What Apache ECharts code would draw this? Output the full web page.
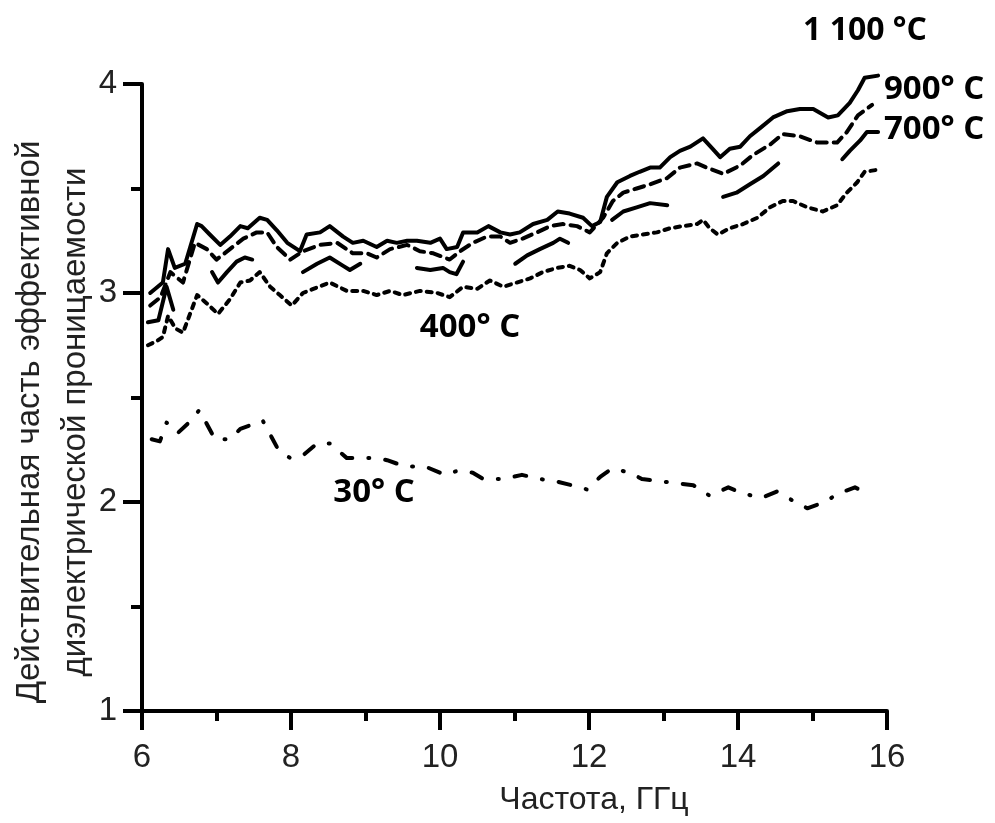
<!DOCTYPE html>
<html>
<head>
<meta charset="utf-8">
<script src="https://cdn.jsdelivr.net/npm/echarts@6/dist/echarts.min.js"></script>
<style>
  html, body { margin: 0; padding: 0; background: #fff; }
  #chart { width: 995px; height: 823px; }
</style>
</head>
<body>
<div id="chart"></div>
<script>
// частота, ГГц / действительная часть eps
const t1100 = [[6.11, 3.0], [6.28, 3.05], [6.35, 3.21], [6.44, 3.12], [6.58, 3.14], [6.74, 3.33], [6.8, 3.32], [6.91, 3.28], [7.05, 3.23], [7.18, 3.27], [7.32, 3.32], [7.42, 3.31], [7.58, 3.36], [7.68, 3.35], [7.81, 3.30], [7.95, 3.24], [8.12, 3.20], [8.21, 3.28], [8.39, 3.29], [8.52, 3.32], [8.70, 3.27], [8.83, 3.24], [8.97, 3.25], [9.15, 3.22], [9.29, 3.25], [9.42, 3.24], [9.56, 3.25], [9.69, 3.25], [9.87, 3.24], [10.0, 3.26], [10.09, 3.21], [10.23, 3.22], [10.31, 3.29], [10.50, 3.29], [10.65, 3.32], [10.81, 3.29], [10.94, 3.28], [11.07, 3.29], [11.25, 3.33], [11.44, 3.35], [11.58, 3.39], [11.74, 3.38], [11.92, 3.36], [12.04, 3.32], [12.15, 3.34], [12.24, 3.46], [12.38, 3.53], [12.55, 3.56], [12.68, 3.58], [12.82, 3.60], [12.95, 3.60], [13.09, 3.65], [13.22, 3.68], [13.36, 3.70], [13.53, 3.74], [13.66, 3.69], [13.76, 3.65], [13.89, 3.69], [14.03, 3.70], [14.16, 3.75], [14.30, 3.79], [14.47, 3.84], [14.66, 3.87], [14.83, 3.88], [15.01, 3.88], [15.21, 3.84], [15.34, 3.85], [15.50, 3.91], [15.61, 3.97], [15.70, 4.03], [15.88, 4.04]]
const t900 = [[6.11, 2.94], [6.25, 2.98], [6.38, 3.10], [6.55, 3.05], [6.71, 3.24], [6.87, 3.21], [7.0, 3.16], [7.18, 3.21], [7.36, 3.26], [7.54, 3.29], [7.68, 3.29], [7.81, 3.22], [7.99, 3.16], [8.16, 3.20], [8.39, 3.23], [8.62, 3.24], [8.83, 3.19], [9.02, 3.19], [9.15, 3.17], [9.33, 3.21], [9.56, 3.23], [9.73, 3.20], [9.91, 3.19], [10.13, 3.16], [10.27, 3.20], [10.44, 3.24], [10.63, 3.27], [10.81, 3.27], [10.94, 3.24], [11.11, 3.26], [11.30, 3.29], [11.48, 3.32], [11.65, 3.33], [11.84, 3.32], [12.01, 3.29], [12.19, 3.36], [12.32, 3.44], [12.46, 3.48], [12.64, 3.50], [12.82, 3.52], [13.05, 3.55], [13.22, 3.60], [13.45, 3.62], [13.58, 3.60], [13.80, 3.57], [14.03, 3.61], [14.20, 3.66], [14.43, 3.71], [14.60, 3.76], [14.83, 3.75], [15.06, 3.72], [15.33, 3.72], [15.46, 3.77], [15.61, 3.85], [15.80, 3.90]]
const t700 = [[6.08, 2.86], [6.22, 2.87], [6.33, 3.03], [6.42, 2.92], null, [6.94, 3.10], [7.02, 3.05], [7.14, 3.10], [7.27, 3.15], [7.38, 3.17], [7.48, 3.16], null, [8.16, 3.10], [8.35, 3.14], [8.52, 3.17], [8.70, 3.13], [8.79, 3.11], [8.93, 3.14], null, [9.69, 3.12], [9.87, 3.11], [10.04, 3.12], [10.13, 3.10], [10.22, 3.09], [10.31, 3.15], null, [11.01, 3.14], [11.17, 3.18], [11.34, 3.21], [11.52, 3.24], [11.61, 3.26], [11.72, 3.24], null, [12.31, 3.35], [12.46, 3.39], [12.64, 3.41], [12.82, 3.43], [13.05, 3.42], null, [13.80, 3.46], [13.98, 3.48], [14.16, 3.52], [14.34, 3.56], [14.54, 3.62], null, [15.40, 3.64], [15.50, 3.68], [15.64, 3.73], [15.73, 3.77], [15.88, 3.77]]
const t400 = [[6.08, 2.75], [6.20, 2.77], [6.28, 2.79], [6.35, 2.89], [6.45, 2.83], [6.55, 2.81], [6.74, 2.99], [6.87, 2.95], [7.02, 2.90], [7.18, 2.97], [7.32, 3.05], [7.45, 3.06], [7.58, 3.10], [7.72, 3.03], [7.85, 2.99], [8.01, 2.94], [8.16, 3.00], [8.30, 3.02], [8.52, 3.05], [8.75, 3.01], [8.97, 3.01], [9.15, 2.99], [9.33, 3.01], [9.50, 2.99], [9.73, 3.01], [9.96, 3.00], [10.13, 2.98], [10.31, 3.03], [10.50, 3.02], [10.67, 3.06], [10.85, 3.03], [11.03, 3.05], [11.21, 3.07], [11.38, 3.10], [11.57, 3.12], [11.74, 3.13], [11.88, 3.11], [12.01, 3.07], [12.15, 3.10], [12.24, 3.19], [12.38, 3.24], [12.55, 3.27], [12.72, 3.28], [12.91, 3.29], [13.09, 3.31], [13.26, 3.32], [13.45, 3.33], [13.53, 3.35], [13.62, 3.31], [13.73, 3.28], [13.89, 3.31], [14.07, 3.33], [14.26, 3.36], [14.43, 3.41], [14.60, 3.44], [14.74, 3.44], [14.93, 3.41], [15.14, 3.39], [15.33, 3.42], [15.46, 3.48], [15.60, 3.53], [15.70, 3.58], [15.88, 3.59]]
const t30 = [[6.13, 2.30], [6.24, 2.29], [6.33, 2.38], [6.48, 2.33], [6.63, 2.38], [6.77, 2.44], [6.89, 2.36], [6.98, 2.30], [7.18, 2.30], [7.32, 2.35], [7.48, 2.37], [7.62, 2.39], [7.74, 2.31], [7.83, 2.25], [7.99, 2.21], [8.15, 2.22], [8.35, 2.28], [8.52, 2.28], [8.75, 2.21], [8.89, 2.21], [9.15, 2.21], [9.29, 2.20], [9.53, 2.17], [9.80, 2.17], [10.07, 2.13], [10.24, 2.15], [10.44, 2.14], [10.58, 2.11], [10.85, 2.11], [11.10, 2.13], [11.34, 2.11], [11.54, 2.10], [11.77, 2.08], [11.97, 2.06], [12.15, 2.12], [12.31, 2.16], [12.55, 2.14], [12.71, 2.11], [12.95, 2.10], [13.15, 2.09], [13.40, 2.08], [13.62, 2.03], [13.87, 2.07], [14.07, 2.04], [14.32, 2.02], [14.52, 2.05], [14.72, 2.01], [14.93, 1.97], [15.17, 2.00], [15.34, 2.04], [15.57, 2.07], [15.74, 2.04]]

const labels = ['1 100 °C', '900° C', '700° C', '400° C', '30° C']
const yTitle = ['Действительная часть эффективной', 'диэлектрической проницаемости']
const xTitle = 'Частота, ГГц'

const chart = echarts.init(document.getElementById('chart'))

function line (name, data, type) {
  return {
    name: name,
    type: 'line',
    data: data,
    showSymbol: false,
    connectNulls: false,
    clip: false,
    lineStyle: { color: '#000', width: 4, type: type, cap: 'round', join: 'round' }
  }
}

const axisFont = { color: '#222', fontSize: 33, fontFamily: 'Liberation Sans, sans-serif' }
const tagFont = 'bold 33px "Open Sans", sans-serif'

const option = {
  animation: false,
  grid: { left: 142, right: 108, top: 84, bottom: 112 },
  xAxis: {
    type: 'value',
    min: 6,
    max: 16,
    interval: 2,
    axisLine: { lineStyle: { color: '#000', width: 4 } },
    axisTick: { length: 19, lineStyle: { color: '#000', width: 4 } },
    minorTick: { show: true, splitNumber: 2, length: 10, lineStyle: { color: '#000', width: 4 } },
    splitLine: { show: false },
    axisLabel: Object.assign({ margin: 30 }, axisFont)
  },
  yAxis: {
    type: 'value',
    min: 1,
    max: 4,
    interval: 1,
    axisLine: { lineStyle: { color: '#000', width: 4 } },
    axisTick: { length: 19, lineStyle: { color: '#000', width: 4 } },
    minorTick: { show: true, splitNumber: 2, length: 11, lineStyle: { color: '#000', width: 4 } },
    splitLine: { show: false },
    axisLabel: Object.assign({ margin: 25 }, axisFont)
  },
  series: [
    line(labels[0], t1100, 'solid'),
    line(labels[1], t900, [10, 7]),
    line(labels[2], t700, 'solid'),
    line(labels[3], t400, [5, 6]),
    line(labels[4], t30, [12, 16, 1, 16])
  ],
  graphic: [
    {
      type: 'text', x: 53, y: 422, rotation: Math.PI / 2,
      style: { text: yTitle.join('\n'), font: '33px "Liberation Sans", sans-serif', fill: '#222', align: 'center', verticalAlign: 'middle', lineHeight: 46 }
    },
    {
      type: 'text', x: 594, y: 800,
      style: { text: xTitle, font: '32px "Liberation Sans", sans-serif', fill: '#222', align: 'center', verticalAlign: 'middle' }
    },
    { type: 'text', x: 865, y: 31, style: { text: labels[0], font: 'bold 32px "Open Sans", sans-serif', fill: '#000', align: 'center', verticalAlign: 'middle' } },
    { type: 'text', x: 884, y: 90, style: { text: labels[1], font: tagFont, fill: '#000', align: 'left', verticalAlign: 'middle' } },
    { type: 'text', x: 884, y: 130, style: { text: labels[2], font: tagFont, fill: '#000', align: 'left', verticalAlign: 'middle' } },
    { type: 'text', x: 470, y: 328, style: { text: labels[3], font: tagFont, fill: '#000', align: 'center', verticalAlign: 'middle' } },
    { type: 'text', x: 374, y: 493, style: { text: labels[4], font: tagFont, fill: '#000', align: 'center', verticalAlign: 'middle' } }
  ]
}

chart.setOption(option)
</script>
</body>
</html>
